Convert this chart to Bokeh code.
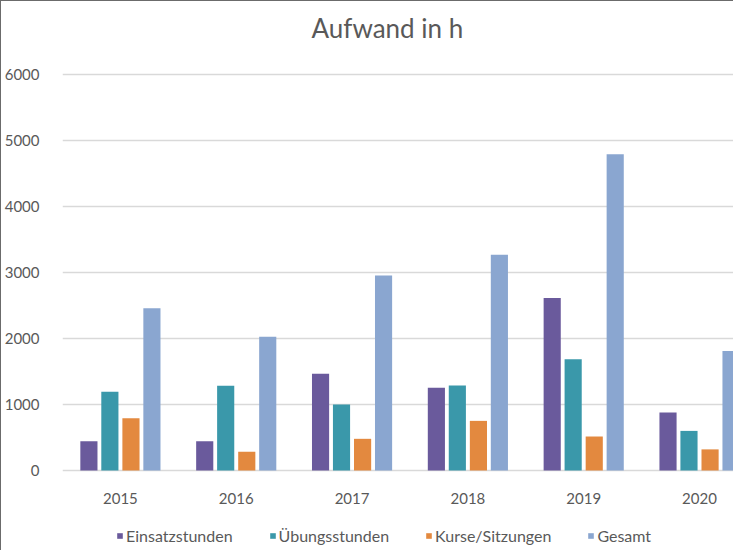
from bokeh.plotting import figure
from bokeh.models import Range1d, FixedTicker, Legend, LegendItem, ColumnDataSource, Label
from bokeh.core.properties import value
from bokeh.embed import file_html
from bokeh.resources import INLINE

# ---- data ----
years = ["2015", "2016", "2017", "2018", "2019", "2020"]
series_names = ["Einsatzstunden", "Übungsstunden", "Kurse/Sitzungen", "Gesamt"]
einsatzstunden = [445, 445, 1465, 1255, 2615, 880]
uebungsstunden = [1195, 1285, 1000, 1288, 1685, 600]
kurse_sitzungen = [790, 285, 480, 752, 515, 320]
gesamt = [2460, 2025, 2955, 3268, 4790, 1810]
y_ticks = [0, 1000, 2000, 3000, 4000, 5000, 6000]
title_text = "Aufwand in h"

colors = ["#6A5A9C", "#3A98AA", "#E3893F", "#8AA6D0"]
offsets = [-0.272, -0.091, 0.091, 0.272]
all_series = [einsatzstunden, uebungsstunden, kurse_sitzungen, gesamt]

text_color = "#595959"
font = "Lato"

# frame covers the whole canvas height: 6000 is 73px below the top,
# 0 is 81px above the bottom; 66px per 1000
px_per_unit = 66.0 / 1000.0
y_bottom = -81.0 / px_per_unit
y_top = max(y_ticks) + 73.0 / px_per_unit

p = figure(width=733, height=550, output_backend="svg", toolbar_location=None,
           x_range=Range1d(-0.5, 5.302), y_range=Range1d(y_bottom, y_top),
           min_border_left=60, min_border_right=0, min_border_top=0,
           min_border_bottom=0)
p.styles = {"border-left": "1px solid #6b6b6b", "border-top": "1px solid #6b6b6b"}

# title as a label inside the frame (screen units from frame bottom-left)
p.add_layout(Label(x=249, y=524, x_units="screen", y_units="screen",
                   text=title_text, text_font=font, text_font_size="26px",
                   text_color=text_color, text_baseline="alphabetic",
                   text_align="left"))

x_idx = list(range(len(years)))
items = []
for name, vals, col, off in zip(series_names, all_series, colors, offsets):
    src = ColumnDataSource(dict(x=[i + off for i in x_idx], top=vals))
    r = p.vbar(x="x", top="top", width=0.148, source=src, fill_color=col,
               line_color=None)
    items.append(LegendItem(label=name, renderers=[r]))

# category labels under the baseline
label_y = -28.0 / px_per_unit
p.text(x=x_idx, y=[label_y] * len(x_idx), text=years, text_align="center",
       text_baseline="middle", text_font=value(font), text_font_size="15px",
       text_color=text_color)

# axes
p.xaxis.visible = False
p.yaxis.ticker = FixedTicker(ticks=y_ticks)
p.yaxis.major_tick_line_color = None
p.yaxis.minor_tick_line_color = None
p.yaxis.major_label_text_font = font
p.yaxis.major_label_text_font_size = "15px"
p.yaxis.major_label_text_color = text_color
p.yaxis.axis_line_color = None
p.yaxis.major_label_standoff = 17

p.xgrid.grid_line_color = None
p.ygrid.ticker = FixedTicker(ticks=y_ticks)
p.ygrid.grid_line_color = "#d9d9d9"
p.ygrid.grid_line_width = 1.5
p.outline_line_color = None
p.background_fill_color = "white"
p.border_fill_color = "white"

legend = Legend(items=items, orientation="horizontal", location=(54, 6),
                label_text_font=font, label_text_font_size="16px",
                label_text_color=text_color, glyph_width=7, glyph_height=7,
                label_standoff=3, spacing=36, border_line_color=None,
                background_fill_alpha=0, padding=0, margin=0)
p.add_layout(legend)

open("out.html", "w").write(file_html(p, INLINE))
